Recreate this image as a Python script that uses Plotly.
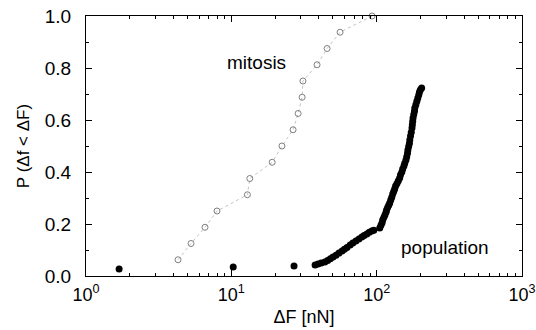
import plotly.graph_objects as go

# mitosis: open circles, CDF steps of 1/16
mitosis_x = [4.30, 5.28, 6.59, 7.97, 12.9, 13.4, 19.1, 22.3, 26.6, 28.8, 30.7, 31.1, 38.9, 45.6, 56.0, 93.0]
mitosis_p = [0.0625, 0.125, 0.1875, 0.25, 0.3125, 0.375, 0.4375, 0.5, 0.5625, 0.625, 0.6875, 0.75, 0.8125, 0.875, 0.9375, 1.0]

# population: filled circles
population_x = [1.69, 10.3, 27.0,
                37.7, 39.5, 41.5, 44.0, 46.0, 48.0, 50.1, 52.5, 55.0, 57.8, 60.0, 62.5, 65.7, 68.5,
                72.0, 75.5, 79.1, 82.0, 85.6, 89.0, 92.6, 95.6,
                105, 107, 109, 110, 112, 114, 116, 117, 119, 121, 123, 125, 127, 129, 131, 133, 135,
                138, 141, 144, 146, 149, 151, 154, 156, 159, 161, 163, 164, 166, 168, 169, 171, 173,
                175, 176, 177, 178, 180, 182, 183, 186, 189, 192, 195, 197, 200, 204]
population_p = [0.027, 0.035, 0.038,
                0.042, 0.046, 0.050, 0.054, 0.060, 0.066, 0.073, 0.080, 0.088, 0.096, 0.103, 0.110, 0.119, 0.127,
                0.135, 0.142, 0.150, 0.156, 0.162, 0.168, 0.173, 0.176,
                0.185, 0.195, 0.205, 0.215, 0.225, 0.235, 0.245, 0.254, 0.263, 0.272, 0.281, 0.292, 0.303, 0.315, 0.325, 0.335, 0.346,
                0.356, 0.366, 0.377, 0.389, 0.400, 0.412, 0.423, 0.434, 0.446, 0.459, 0.472, 0.485, 0.498, 0.510, 0.523, 0.538, 0.553,
                0.569, 0.582, 0.595, 0.608, 0.621, 0.634, 0.646, 0.659, 0.672, 0.685, 0.697, 0.708, 0.716, 0.723]

x_tickvals = [1, 10, 100, 1000]
x_ticktext = ["10<sup>0</sup>", "10<sup>1</sup>", "10<sup>2</sup>", "10<sup>3</sup>"]
x_minor = [m * d for d in [1, 10, 100] for m in range(2, 10)]
y_tickvals = [0.0, 0.2, 0.4, 0.6, 0.8, 1.0]
y_ticktext = ["0.0", "0.2", "0.4", "0.6", "0.8", "1.0"]

FONT = "Liberation Sans, Arial, sans-serif"

fig = go.Figure()
fig.add_trace(go.Scatter(
    x=mitosis_x, y=mitosis_p, mode="lines+markers", cliponaxis=False,
    line=dict(color="#c4c4c4", width=1, dash="dot"),
    marker=dict(symbol="circle-open", size=6, color="#808080", line=dict(width=1)),
    showlegend=False, name="mitosis"))
fig.add_trace(go.Scatter(
    x=population_x, y=population_p, mode="markers",
    marker=dict(symbol="circle", size=7, color="black"),
    showlegend=False, name="population"))

fig.add_annotation(x=1.176, y=0.823, xref="x", yref="y", text="mitosis", showarrow=False,
                   font=dict(family=FONT, size=19, color="black"))
fig.add_annotation(x=2.471, y=0.108, xref="x", yref="y", text="population", showarrow=False,
                   font=dict(family=FONT, size=19, color="black"))

fig.update_xaxes(type="log", range=[0, 3], tickmode="array", tickvals=x_tickvals, ticktext=x_ticktext,
                 ticks="inside", ticklen=6, tickcolor="black", showline=True, linecolor="black", linewidth=1,
                 mirror="allticks", showgrid=False, zeroline=False, automargin=False,
                 minor=dict(tickmode="array", tickvals=x_minor, ticks="inside", ticklen=3, tickcolor="black", showgrid=False),
                 tickfont=dict(family=FONT, size=18, color="black"), ticklabelstandoff=2,
                 title=dict(text="ΔF [nN]", font=dict(family=FONT, size=18, color="black"), standoff=6))
fig.update_yaxes(range=[0, 1], tickmode="array", tickvals=y_tickvals, ticktext=y_ticktext,
                 ticks="inside", ticklen=6, tickcolor="black", showline=True, linecolor="black", linewidth=1,
                 mirror="allticks", showgrid=False, zeroline=False, automargin=False,
                 minor=dict(dtick=0.1, ticks="inside", ticklen=3, tickcolor="black", showgrid=False),
                 tickfont=dict(family=FONT, size=19, color="black"), ticklabelstandoff=10,
                 title=dict(text="P (Δf < ΔF)", font=dict(family=FONT, size=17, color="black"), standoff=10))

fig.update_layout(width=536, height=330, margin=dict(l=86, r=14, t=16, b=54),
                  plot_bgcolor="white", paper_bgcolor="white")
fig.write_html("out.html", config={"displayModeBar": False},
               post_script="document.body.style.margin='0';document.body.style.overflow='hidden';")
